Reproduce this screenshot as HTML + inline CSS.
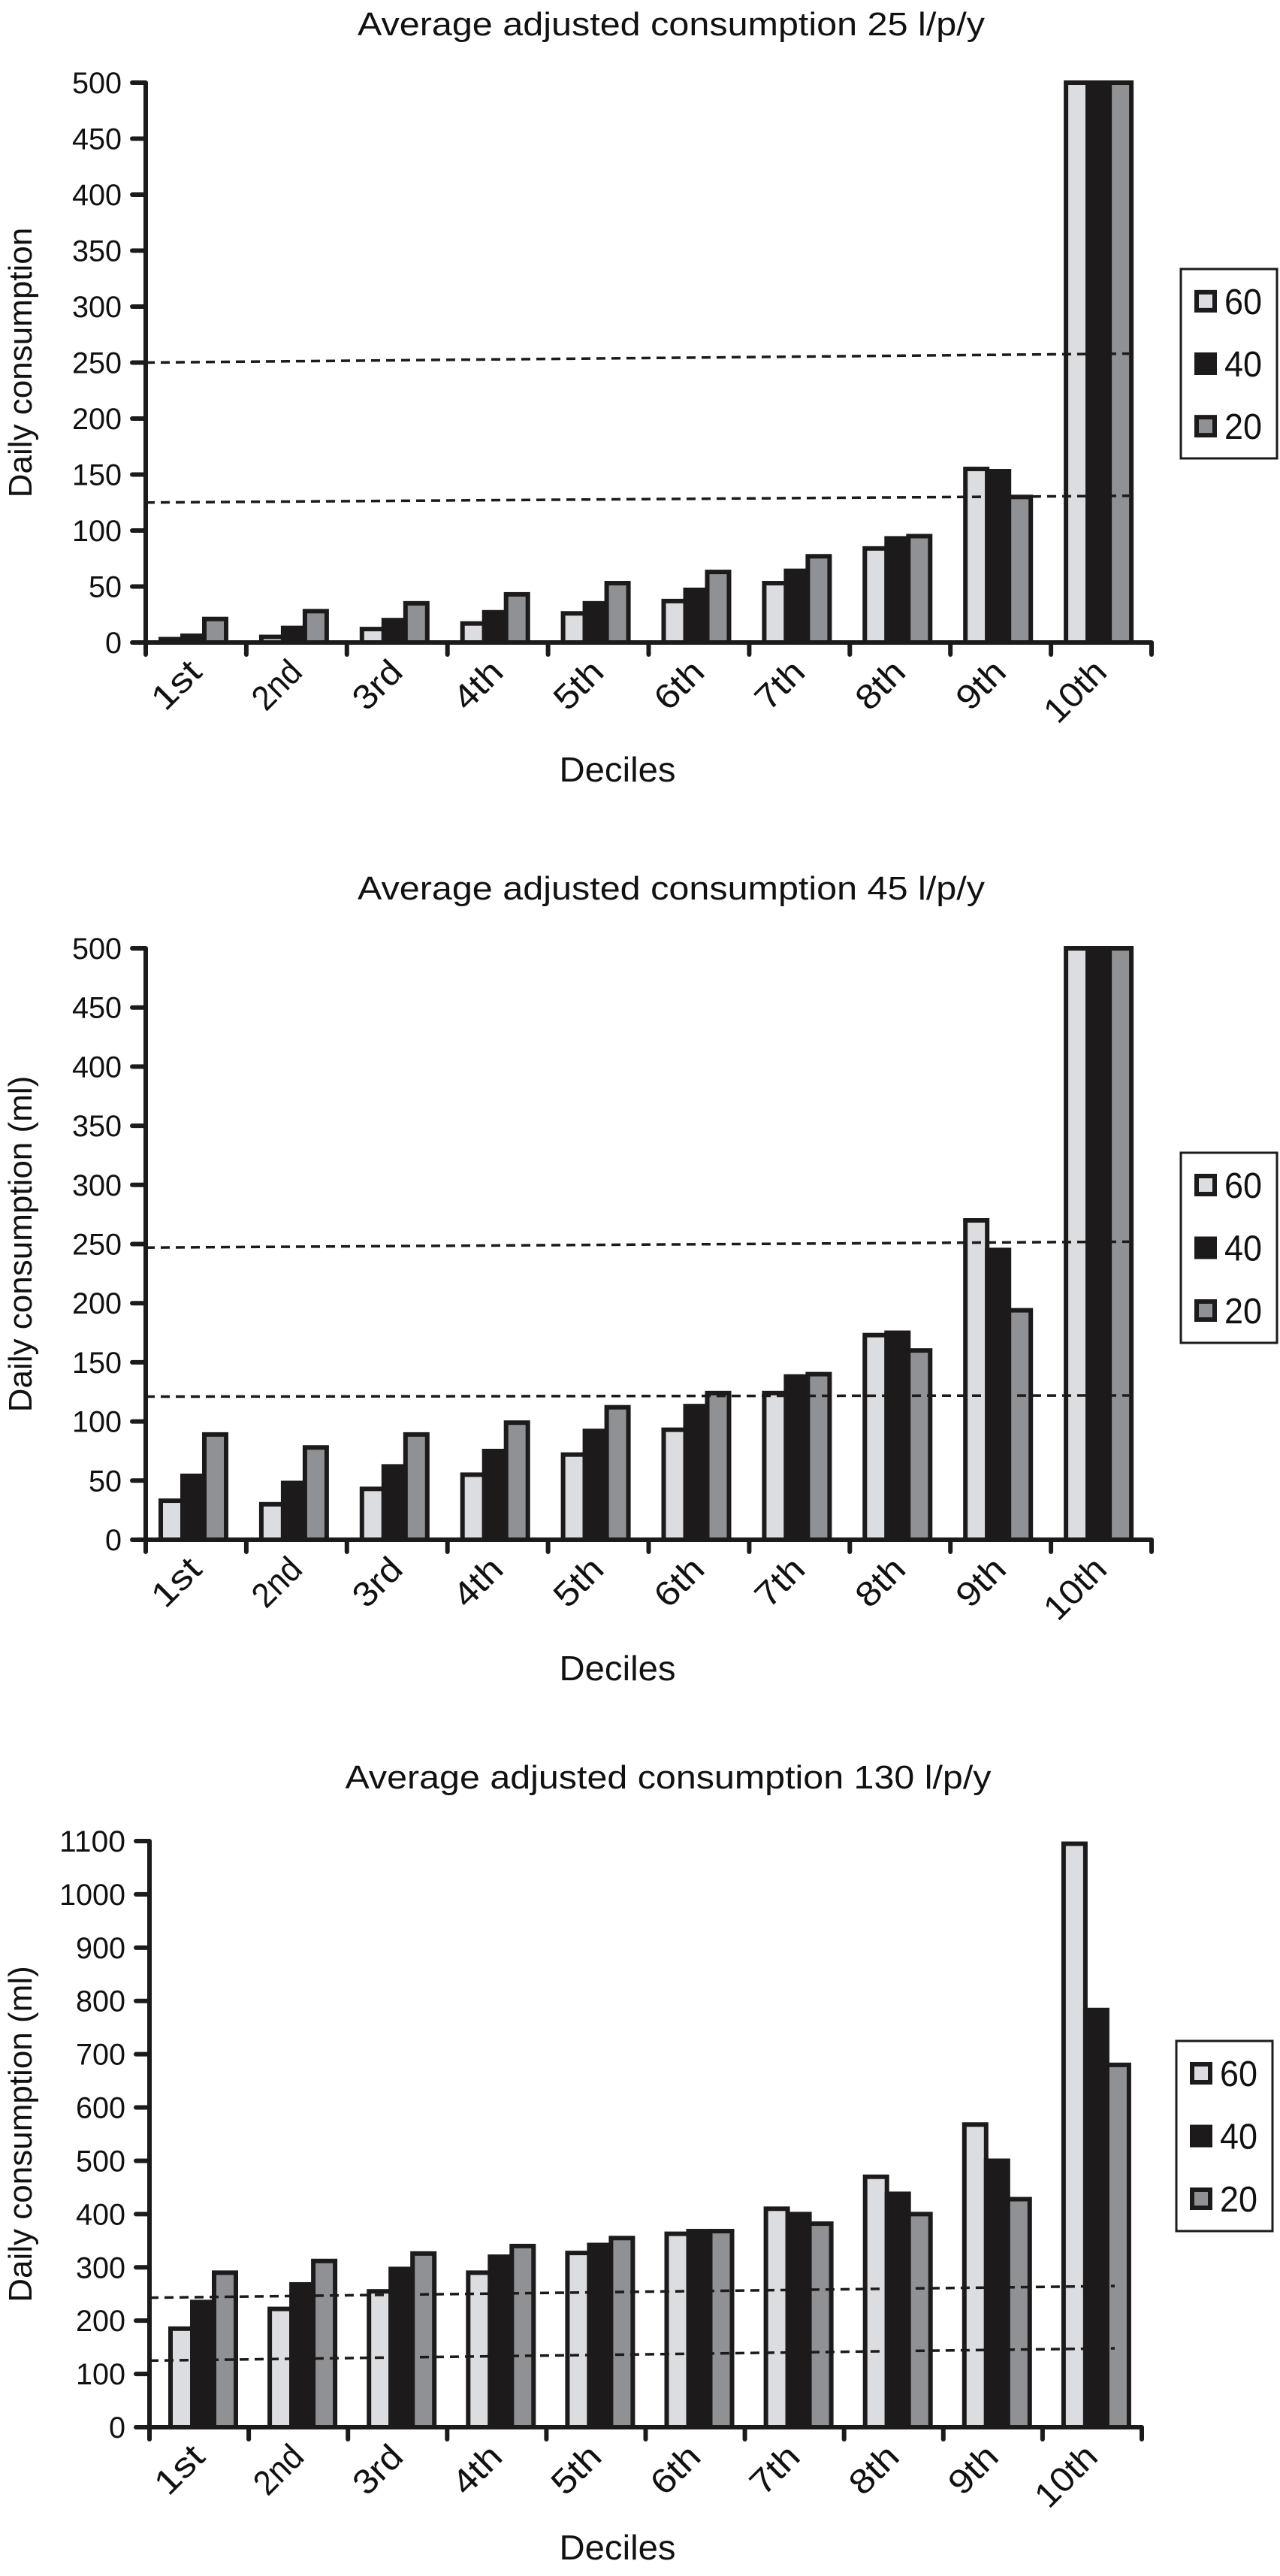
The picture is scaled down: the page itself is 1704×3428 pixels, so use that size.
<!DOCTYPE html>
<html><head><meta charset="utf-8"><style>
html,body{margin:0;padding:0;background:#fff;}
svg{display:block;}
text{font-family:"Liberation Sans",sans-serif;fill:#111;}
</style></head><body>
<svg id="root" width="1704" height="3428" viewBox="0 0 1704 3428"></svg>
<script>
const categories = ["1st","2nd","3rd","4th","5th","6th","7th","8th","9th","10th"];
const seriesNames = ["60","40","20"];
const c1_s60 = [3,5,12,17,26,37,53,84,155,600];
const c1_s40 = [6,13,20,27,35,47,64,93,153,600];
const c1_s20 = [21,28,35,43,53,63,77,95,130,600];
const c1_ticks = [0,50,100,150,200,250,300,350,400,450,500];
const c1_dashHigh = [250,258];
const c1_dashLow = [125,131];
const c2_s60 = [33,30,43,55,72,93,124,173,270,600];
const c2_s40 = [54,48,62,75,92,113,138,175,245,600];
const c2_s20 = [89,78,89,99,112,124,140,160,194,600];
const c2_ticks = [0,50,100,150,200,250,300,350,400,450,500];
const c2_dashHigh = [247,252];
const c2_dashLow = [121,122];
const c3_s60 = [185,222,255,290,327,363,410,470,568,1095];
const c3_s40 = [235,268,297,320,342,368,400,438,500,783];
const c3_s20 = [290,312,326,340,355,368,382,400,428,680];
const c3_ticks = [0,100,200,300,400,500,600,700,800,900,1000,1100];
const c3_dashHigh = [243,265];
const c3_dashLow = [125,148];

const NS="http://www.w3.org/2000/svg";
const root=document.getElementById('root');
const colors=["#dcdde0","#1c1a1b","#8f9194"];
function mk(tag,attrs,parent){const e=document.createElementNS(NS,tag);for(const k in attrs)e.setAttribute(k,attrs[k]);(parent||root).appendChild(e);return e;}

function chart(cfg){
  const g=mk('g',{});
  
  
  const x0=cfg.x0,x1=cfg.x1,yTop=cfg.yTop,yZero=cfg.yZero,max=cfg.max;
  const ys=v=>yZero-(Math.min(v,max)/max)*(yZero-yTop);
  const cw=(x1-x0)/categories.length;
  const xs=i=>x0+i*cw;
  const t=mk('text',{x:(x0+x1)/2+30,y:cfg.titleY,'font-size':44,'text-anchor':'middle',textLength:cfg.titleW,lengthAdjust:'spacingAndGlyphs'},g);
  t.textContent=cfg.title;
  
  
  const yt=mk('text',{x:0,y:0,'font-size':44,'text-anchor':'middle',transform:`translate(42,${(yTop+yZero)/2}) rotate(-90)`},g);
  yt.textContent=cfg.ytitle;
  
  
  const series=cfg.series;
  series.forEach((arr,si)=>{
    arr.forEach((v,i)=>{
      const bx=xs(i)+cfg.off+si*cfg.bw;
      const y=ys(v);
      const r=mk('rect',{x:bx,y:y,width:cfg.bw,height:yZero-y,fill:colors[si],stroke:'#1c1a1b','stroke-width':6},g);
      
      
    });
  });
  [cfg.dashHigh,cfg.dashLow].forEach((d,k)=>{
    const l=mk('line',{x1:x0,y1:ys(d[0]),x2:cfg.dashEnd,y2:ys(d[1]),stroke:'#1c1a1b','stroke-width':3.5,'stroke-dasharray':'12 8'},g);
    
    
  });
  const ya=mk('line',{x1:x0,y1:yTop,x2:x0,y2:yZero,stroke:'#1c1a1b','stroke-width':6},g);
  
  
  const xa=mk('line',{x1:x0-18,y1:yZero,x2:x1,y2:yZero,stroke:'#1c1a1b','stroke-width':6},g);
  
  
  cfg.ticks.forEach(v=>{
    const y=ys(v);
    const tk=mk('line',{x1:x0-18,y1:y,x2:x0,y2:y,stroke:'#1c1a1b','stroke-width':6,'stroke-linecap':'round'},g);
    
    
    const s=String(v);
    const lb=mk('text',{x:x0-32,y:y+14,'font-size':40,'text-anchor':'end',textLength:s.length*22,lengthAdjust:'spacingAndGlyphs'},g);
    lb.textContent=s;
    
    
  });
  for(let i=0;i<=categories.length;i++){
    const tk=mk('line',{x1:xs(i),y1:yZero,x2:xs(i),y2:yZero+16,stroke:'#1c1a1b','stroke-width':6,'stroke-linecap':'round'},g);
    
    
  }
  categories.forEach((c,i)=>{
    const cx=xs(i)+cw/2+10;
    const lb=mk('text',{x:0,y:0,'font-size':46,'text-anchor':'end',textLength:c.length*24,lengthAdjust:'spacingAndGlyphs',transform:`translate(${cx},${yZero+42}) rotate(-45)`},g);
    lb.textContent=c;
    
    
  });
  const xt=mk('text',{x:822,y:cfg.decY,'font-size':46,'text-anchor':'middle',textLength:155,lengthAdjust:'spacingAndGlyphs'},g);
  xt.textContent='Deciles';
  
  
  const lg=mk('g',{},g);
  
  
  mk('rect',{x:cfg.lx,y:cfg.ly,width:128,height:cfg.lh,fill:'#fff',stroke:'#1c1a1b','stroke-width':3},lg);
  seriesNames.forEach((n,si)=>{
    const cy=cfg.ly+cfg.lh*(0.17+si*0.33);
    const sw=mk('rect',{x:cfg.lx+21,y:cy-12,width:24,height:24,fill:colors[si],stroke:'#1c1a1b','stroke-width':6},lg);
    
    
    const tx=mk('text',{x:cfg.lx+58,y:cy+17,'font-size':48,textLength:50,lengthAdjust:'spacingAndGlyphs'},lg);
    tx.textContent=n;
    
    
  });
}

chart({name:'chart-25',title:'Average adjusted consumption 25 l/p/y',titleW:835,titleY:47,ytitle:'Daily consumption',
  x0:194,x1:1533,yTop:110,yZero:855,max:500,ticks:c1_ticks,series:[c1_s60,c1_s40,c1_s20],
  off:20,bw:29,dashHigh:c1_dashHigh,dashLow:c1_dashLow,dashEnd:1503,decY:1040,lx:1572,ly:358,lh:252});
chart({name:'chart-45',title:'Average adjusted consumption 45 l/p/y',titleW:835,titleY:1197,ytitle:'Daily consumption (ml)',
  x0:194,x1:1533,yTop:1262,yZero:2049,max:500,ticks:c2_ticks,series:[c2_s60,c2_s40,c2_s20],
  off:20,bw:29,dashHigh:c2_dashHigh,dashLow:c2_dashLow,dashEnd:1503,decY:2236,lx:1572,ly:1534,lh:253});
chart({name:'chart-130',title:'Average adjusted consumption 130 l/p/y',titleW:860,titleY:2380,ytitle:'Daily consumption (ml)',
  x0:199,x1:1520,yTop:2450,yZero:3230,max:1100,ticks:c3_ticks,series:[c3_s60,c3_s40,c3_s20],
  off:28,bw:29,dashHigh:c3_dashHigh,dashLow:c3_dashLow,dashEnd:1484,decY:3406,lx:1566,ly:2716,lh:253});
</script>
</body></html>
